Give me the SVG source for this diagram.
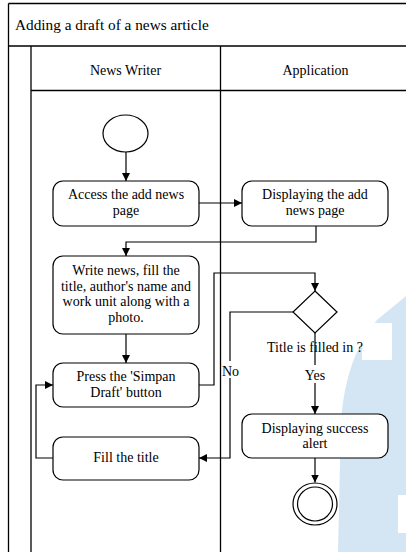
<svg xmlns="http://www.w3.org/2000/svg" width="406" height="552" viewBox="0 0 406 552" font-family="'Liberation Serif', 'DejaVu Serif', serif" font-size="14">
<style>
.frame{fill:none;stroke:#000;stroke-width:1.3}
.box{fill:#fff;stroke:#000;stroke-width:1.2}
.line{fill:none;stroke:#000;stroke-width:1.2}
text{font-family:'Liberation Serif','DejaVu Serif',serif;font-size:14px;fill:#000}
.c{text-anchor:middle}
.title{font-size:15.3px}
</style>
<defs>
<marker id="arr" viewBox="0 0 10 10" refX="10" refY="5" markerWidth="8" markerHeight="8" markerUnits="userSpaceOnUse" orient="auto">
<path d="M0,0 L10,5 L0,10 Z" fill="#000"/>
</marker>
</defs>
<rect width="406" height="552" fill="#fff"/>
<g id="watermark">
<path d="M406,296 L377,320 Q346,356 341,420 L338,552 L406,552 Z" fill="#d4e5f4"/>
<rect x="362" y="323" width="30" height="37" fill="#fff"/>
<rect x="398" y="495" width="8" height="38" fill="#fff"/>
</g>
<g id="pool">
<line class="frame" x1="8.5" y1="3.5" x2="406" y2="3.5"/>
<line class="frame" x1="8.5" y1="3.5" x2="8.5" y2="552"/>
<line class="frame" x1="8.5" y1="46" x2="406" y2="46"/>
<line class="frame" x1="31" y1="46" x2="31" y2="552"/>
<line class="frame" x1="31" y1="90.5" x2="406" y2="90.5"/>
<line class="frame" x1="220.5" y1="46" x2="220.5" y2="552"/>
<text class="title" x="15" y="30">Adding a draft of a news article</text>
<text class="c" x="125.5" y="75">News Writer</text>
<text class="c" x="315.5" y="75">Application</text>
</g>
<g id="connectors">
<line class="line" x1="126" y1="152" x2="126" y2="181" marker-end="url(#arr)"/>
<line class="line" x1="199" y1="203" x2="242" y2="203" marker-end="url(#arr)"/>
<polyline class="line" points="316,226 316,242 126,242 126,256" marker-end="url(#arr)"/>
<line class="line" x1="126" y1="334" x2="126" y2="363" marker-end="url(#arr)"/>
<polyline class="line" points="199,385 214,385 214,273 315,273 315,291" marker-end="url(#arr)"/>
<polyline class="line" points="293,312 230,312 230,458 199,458" marker-end="url(#arr)"/>
<line class="line" x1="315" y1="333" x2="315" y2="414" marker-end="url(#arr)"/>
<line class="line" x1="315" y1="458" x2="315" y2="482.5" marker-end="url(#arr)"/>
<polyline class="line" points="53,458 36,458 36,385 53,385" marker-end="url(#arr)"/>
<rect x="223" y="361" width="16" height="17" fill="#fff"/>
<text x="222" y="376">No</text>
<rect x="304" y="365" width="22" height="18" fill="#fff"/>
<text class="c" x="315" y="380">Yes</text>
<text class="c" x="315" y="352">Title is filled in ?</text>
</g>
<g id="start">
<ellipse class="box" cx="125.5" cy="133.5" rx="22.5" ry="18.5"/>
</g>
<g id="access">
<rect class="box" x="53" y="181" width="146" height="45" rx="10"/>
<text class="c" x="126" y="199">Access the add news</text>
<text class="c" x="126" y="215">page</text>
</g>
<g id="display-add">
<rect class="box" x="242" y="181" width="146" height="45" rx="10"/>
<text class="c" x="315" y="199">Displaying the add</text>
<text class="c" x="315" y="215">news page</text>
</g>
<g id="write">
<rect class="box" x="53" y="256" width="146" height="78" rx="10"/>
<text class="c" x="126" y="275">Write news, fill the</text>
<text class="c" x="126" y="290.5">title, author's name and</text>
<text class="c" x="126" y="306">work unit along with a</text>
<text class="c" x="126" y="321.5">photo.</text>
</g>
<g id="press">
<rect class="box" x="53" y="363" width="146" height="44" rx="10"/>
<text class="c" x="126" y="381">Press the 'Simpan</text>
<text class="c" x="126" y="397">Draft' button</text>
</g>
<g id="decision">
<polygon class="box" points="315,291 337,312 315,333 293,312"/>
</g>
<g id="success">
<rect class="box" x="242" y="414" width="146" height="44" rx="10"/>
<text class="c" x="315" y="433">Displaying success</text>
<text class="c" x="315" y="448">alert</text>
</g>
<g id="fill-title">
<rect class="box" x="53" y="437" width="146" height="43" rx="10"/>
<text class="c" x="126" y="462">Fill the title</text>
</g>
<g id="end">
<ellipse class="box" cx="315" cy="504" rx="22" ry="21"/>
<ellipse class="box" cx="315" cy="504" rx="17.5" ry="17"/>
</g>
</svg>
